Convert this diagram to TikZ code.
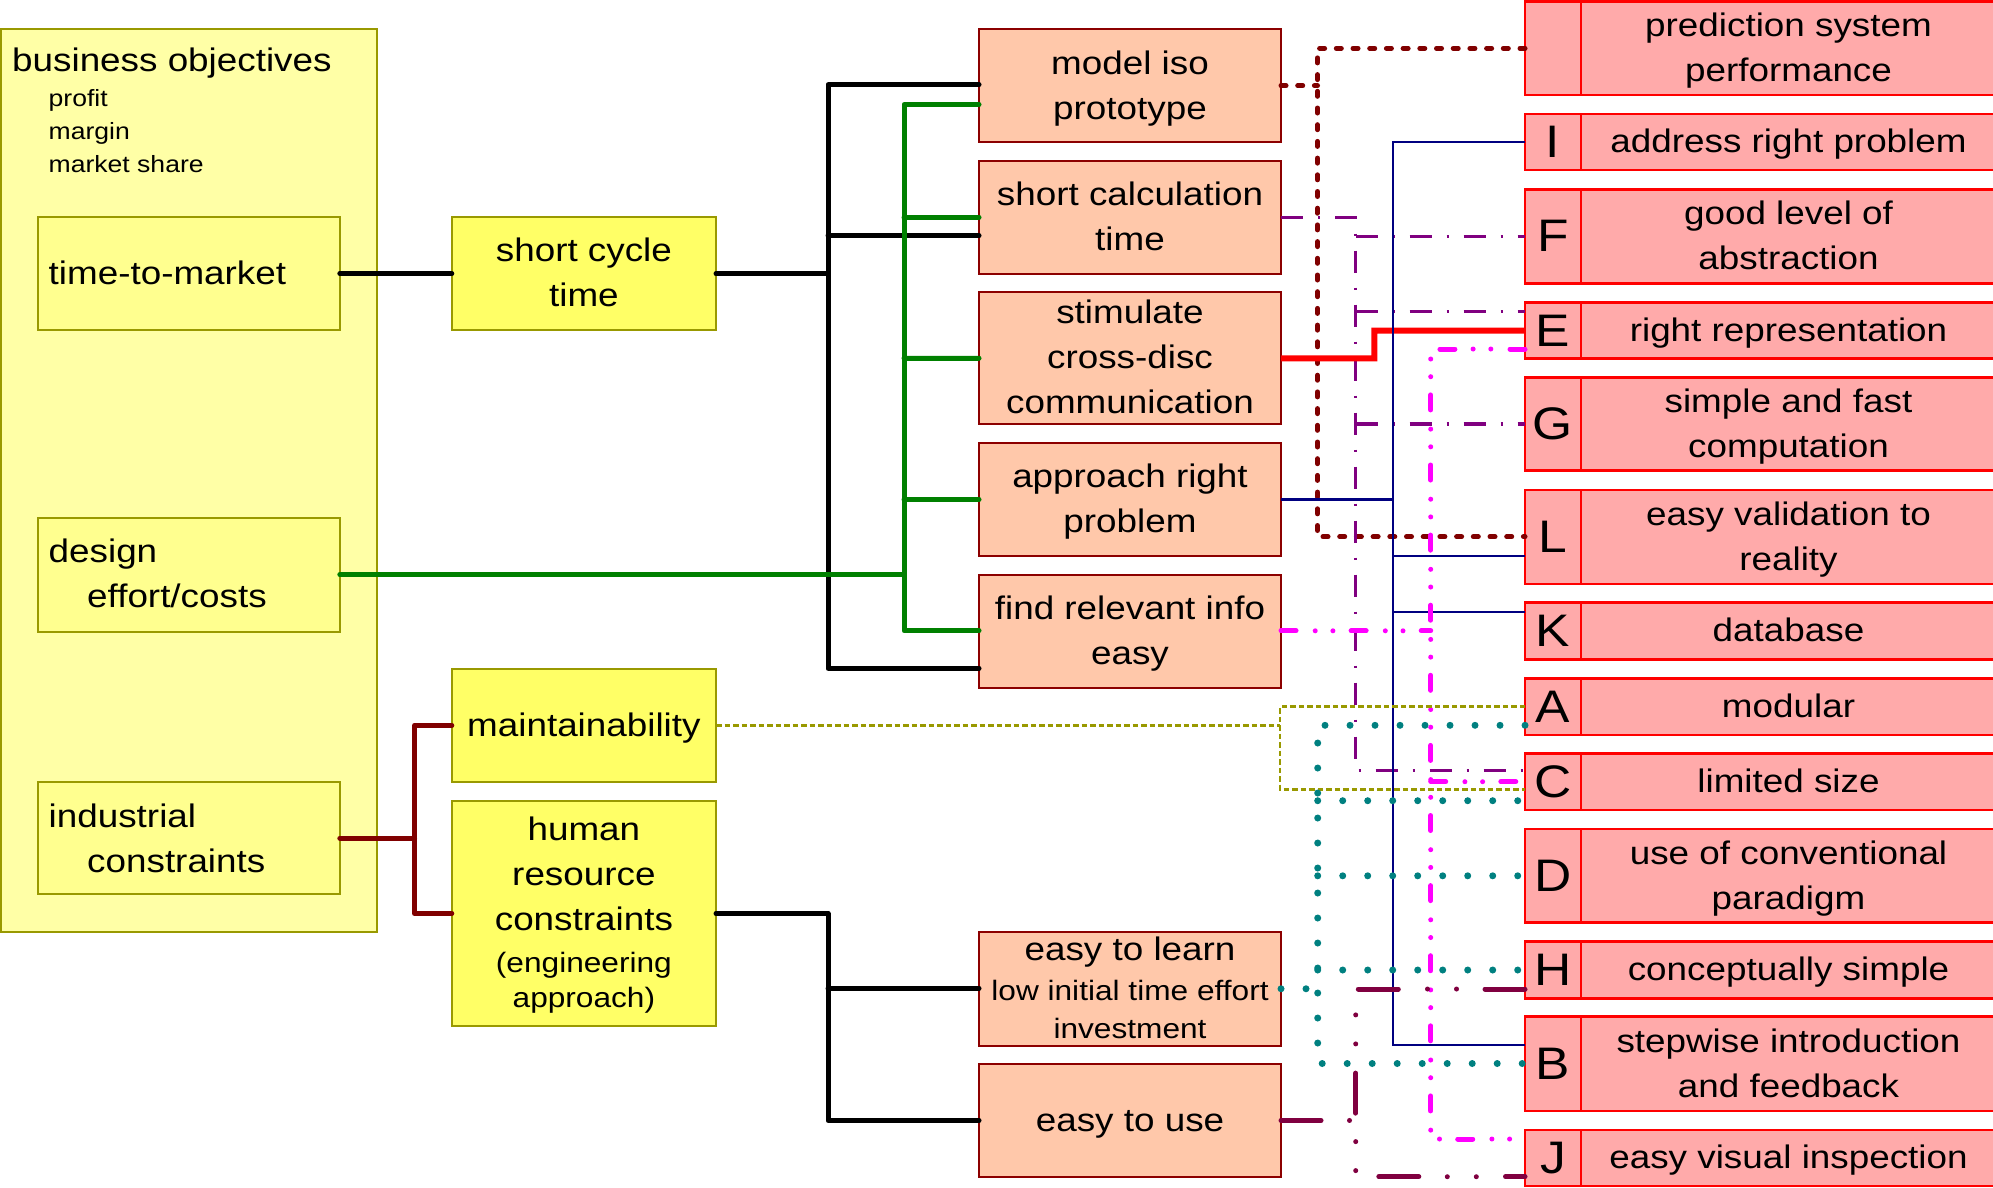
\documentclass[tikz,border=0pt]{standalone}
\usepackage{fontspec}
\setmainfont{Liberation Sans}[FakeStretch=1.13]
\newcommand\fmain{\fontsize{32.6}{45}\selectfont}
\newcommand\fsm{\fontsize{28}{36}\selectfont}
\newcommand\fbiz{\fontsize{23.5}{32.8}\selectfont}
\newcommand\flet{\fontsize{45.6}{50}\selectfont}
\newcommand\T{\rule{0pt}{28.4pt}}
\newcommand\botstrut{\rule[-7pt]{0pt}{7pt}}
\definecolor{bigY}{RGB}{255,255,166}
\definecolor{inY}{RGB}{255,255,143}
\definecolor{midY}{RGB}{255,255,102}
\definecolor{olv}{RGB}{153,153,0}
\definecolor{salm}{RGB}{255,200,170}
\definecolor{salmB}{RGB}{140,0,0}
\definecolor{pinkR}{RGB}{255,170,170}
\definecolor{cGrn}{RGB}{0,128,0}
\definecolor{cDrd}{RGB}{128,0,0}
\definecolor{cPur}{RGB}{128,0,128}
\definecolor{cNav}{RGB}{0,0,128}
\definecolor{cMag}{RGB}{255,0,255}
\definecolor{cTea}{RGB}{0,128,128}
\definecolor{cMar}{RGB}{128,0,64}
\begin{document}
\begin{tikzpicture}[x=1pt,y=-1pt,
  bigbox/.style={draw=olv, fill=bigY, line width=2pt, anchor=north west, inner sep=0pt, outer sep=0pt},
  ybox/.style={draw=olv, fill=inY, line width=2pt, minimum width=302pt, anchor=north west, inner sep=0pt, outer sep=0pt},
  strutted/.style={execute at begin node={\T}, execute at end node={\botstrut}},
  mbox/.style={draw=olv, fill=midY, line width=2pt, minimum width=264.2pt, anchor=north west, inner sep=0pt, outer sep=0pt, font=\fmain, align=center, strutted},
  sbox/.style={draw=salmB, fill=salm, line width=2pt, minimum width=302pt, anchor=north west, inner sep=0pt, outer sep=0pt, font=\fmain, align=center, strutted},
  rlet/.style={draw=red, fill=pinkR, line width=2.5pt, minimum width=56pt, anchor=north west, inner sep=0pt, outer sep=0pt, font=\flet},
  rtxt/.style={draw=red, fill=pinkR, line width=2.5pt, minimum width=415pt, anchor=north west, inner sep=0pt, outer sep=0pt, font=\fmain, align=center, strutted},
  txt/.style={anchor=base west, inner sep=0pt, font=\fmain},
  lblk/.style={draw=black, line width=5pt, line cap=round, line join=round},
  lgrn/.style={draw=cGrn, line width=5pt, line cap=round, line join=round},
  ldrd/.style={draw=cDrd, line width=5pt, line cap=round, line join=round},
  ldot/.style={draw=cDrd, line width=5pt, line cap=round, dash pattern=on 5pt off 11.7pt},
  lpur/.style={draw=cPur, line width=3.5pt, dash pattern=on 22pt off 15pt on 2pt off 15pt},
  lred/.style={draw=red, line width=6pt, line join=miter},
  lnav/.style={draw=cNav, line width=2.2pt},
  lmag/.style={draw=cMag, line width=5pt, line cap=round, dash pattern=on 15pt off 19.2pt on 0pt off 17.7pt on 0pt off 18.2pt},
  lolv/.style={draw=olv, line width=2.7pt, dash pattern=on 5.5pt off 3pt},
  ltea/.style={draw=cTea, line width=7pt, line cap=round, dash pattern=on 0pt off 25pt},
  lmar/.style={draw=cMar, line width=5pt, line cap=round, dash pattern=on 40pt off 28.5pt on 0pt off 29pt on 0pt off 29.2pt}
]
\useasboundingbox (0,0) rectangle (1993,1187);
\clip (0,0) rectangle (1993,1187);

% ---------- left column ----------
\node[bigbox, minimum width=376pt, minimum height=903.2pt] (bo) at (1,28.6) {};
\node[txt] (boT) at (12,71.4) {business objectives};
\node[txt, font=\fbiz] (bo1) at (48.5,106.4) {profit};
\node[txt, font=\fbiz] (bo2) at (48.5,139.2) {margin};
\node[txt, font=\fbiz] (bo3) at (48.5,172) {market share};

\node[ybox, minimum height=113.6pt] (ttm) at (37.8,216.8) {};
\node[txt] (ttmT) at (48.5,284) {time-to-market};
\node[ybox, minimum height=113.6pt] (dec) at (37.8,517.9) {};
\node[txt] (decT1) at (48.5,562) {design};
\node[txt] (decT2) at (87,607) {effort/costs};
\node[ybox, minimum height=112.3pt] (ind) at (37.8,782) {};
\node[txt] (indT1) at (48.5,827) {industrial};
\node[txt] (indT2) at (87,872) {constraints};

% ---------- yellow middle ----------
\node[mbox, minimum height=113.6pt] (scy) at (451.8,216.8) {\T short cycle\\time};
\node[mbox, minimum height=113.2pt] (mt) at (451.8,668.8) {maintainability};
\node[mbox, minimum height=225.5pt] (hr) at (451.8,800.7) {\T human\\resource\\constraints\\[-3pt]{\fsm(engineering}\\[-10pt]{\fsm approach)}};

% ---------- salmon boxes ----------
\node[sbox, minimum height=113pt] (mi) at (979,29.3) {\T model iso\\prototype};
\node[sbox, minimum height=113pt] (sc) at (979,161) {\T short calculation\\time};
\node[sbox, minimum height=131.7pt] (st) at (979,292.4) {\T stimulate\\cross-disc\\communication};
\node[sbox, minimum height=112.5pt] (ap) at (979,443.3) {\T approach right\\problem};
\node[sbox, minimum height=112.7pt] (fr) at (979,575) {\T find relevant info\\easy};
\node[sbox, minimum height=113.5pt] (el) at (979,932) {\T easy to learn\\[-5pt]{\fsm low initial time effort}\\[-7pt]{\fsm investment}};
\node[sbox, minimum height=112.3pt] (eu) at (979,1064.3) {easy to use};

% ---------- right column ----------
\node[rlet, minimum height=93.5pt] (rP) at (1525,1.5) {};
\node[rtxt, minimum height=93.5pt] (rPt) at (rP.north east) {\T prediction system\\performance};
\node[rlet, minimum height=56pt] (rI) at (1525,114) {I};
\node[rtxt, minimum height=56pt] (rIt) at (rI.north east) {address right problem};
\node[rlet, minimum height=94pt] (rF) at (1525,189.3) {F};
\node[rtxt, minimum height=94pt] (rFt) at (rF.north east) {\T good level of\\abstraction};
\node[rlet, minimum height=55.6pt] (rE) at (1525,302.7) {E};
\node[rtxt, minimum height=55.6pt] (rEt) at (rE.north east) {right representation};
\node[rlet, minimum height=93.4pt] (rG) at (1525,377.3) {G};
\node[rtxt, minimum height=93.4pt] (rGt) at (rG.north east) {\T simple and fast\\computation};
\node[rlet, minimum height=94pt] (rL) at (1525,490) {L};
\node[rtxt, minimum height=94pt] (rLt) at (rL.north east) {\T easy validation to\\reality};
\node[rlet, minimum height=56.6pt] (rK) at (1525,602.7) {K};
\node[rtxt, minimum height=56.6pt] (rKt) at (rK.north east) {database};
\node[rlet, minimum height=56.7pt] (rA) at (1525,678.3) {A};
\node[rtxt, minimum height=56.7pt] (rAt) at (rA.north east) {modular};
\node[rlet, minimum height=56.7pt] (rC) at (1525,753.3) {C};
\node[rtxt, minimum height=56.7pt] (rCt) at (rC.north east) {limited size};
\node[rlet, minimum height=93.7pt] (rD) at (1525,829) {D};
\node[rtxt, minimum height=93.7pt] (rDt) at (rD.north east) {\T use of conventional\\paradigm};
\node[rlet, minimum height=56.6pt] (rH) at (1525,941.7) {H};
\node[rtxt, minimum height=56.6pt] (rHt) at (rH.north east) {conceptually simple};
\node[rlet, minimum height=94.3pt] (rB) at (1525,1016.7) {B};
\node[rtxt, minimum height=94.3pt] (rBt) at (rB.north east) {\T stepwise introduction\\and feedback};
\node[rlet, minimum height=56pt] (rJ) at (1525,1130) {J};
\node[rtxt, minimum height=56pt] (rJt) at (rJ.north east) {easy visual inspection};

% ---------- left tree connectors ----------
\coordinate (kA) at (828,84.8);
\coordinate (kB) at (828,235.7);
\coordinate (kC) at (828,273.6);
\coordinate (kD) at (828,668.3);
\draw[lblk] (ttm.east) -- (scy.west);
\draw[lblk] (scy.east) -- (kC);
\draw[lblk] (mi.west |- kA) -- (kA) -- (kD) -- (fr.west |- kD);
\draw[lblk] (kB) -- (sc.west |- kB);

\coordinate (hA) at (828,913.45);
\coordinate (hB) at (828,988.3);
\coordinate (hC) at (828,1120.45);
\draw[lblk] (hr.east) -- (hA) -- (hC) -- (eu.west);
\draw[lblk] (hB) -- (el.west |- hB);

\coordinate (gA) at (904,104.5);
\coordinate (gB) at (904,217.4);
\coordinate (gC) at (904,358.25);
\coordinate (gD) at (904,499.55);
\coordinate (gE) at (904,574.7);
\coordinate (gF) at (904,630.8);
\draw[lgrn] (dec.east) -- (gE);
\draw[lgrn] (mi.west |- gA) -- (gA) -- (gF) -- (fr.west |- gF);
\draw[lgrn] (gB) -- (sc.west |- gB);
\draw[lgrn] (gC) -- (st.west);
\draw[lgrn] (gD) -- (ap.west);

\coordinate (iA) at (414.5,725.4);
\coordinate (iB) at (414.5,838.15);
\coordinate (iC) at (414.5,913.45);
\draw[ldrd] (ind.east) -- (iB);
\draw[ldrd] (mt.west) -- (iA) -- (iC) -- (hr.west);

% ---------- right connectors ----------
\coordinate (dA) at (1317.5,48.3);
\coordinate (dB) at (1317.5,85.7);
\coordinate (dC) at (1317.5,536.7);
\draw[ldot] (mi.east |- dB) -- (dB);
\draw[ldot] (rP.west |- dA) -- (dA) -- (dC) -- (rL.west |- dC);

\coordinate (uA) at (1355.7,217.3);
\coordinate (uB) at (1355.7,236.3);
\coordinate (uC) at (1355.7,311.5);
\coordinate (uD) at (1355.7,424.2);
\coordinate (uE) at (1355.7,770.7);
\draw[lpur] (sc.east |- uA) -- (uA) -- (uE) -- (rC.west |- uE);
\draw[lpur] (uB) -- (rF.west |- uB);
\draw[lpur] (uC) -- (rE.west |- uC);
\draw[lpur] (uD) -- (rG.west |- uD);

\coordinate (eA) at (1374.3,358.25);
\coordinate (eB) at (1374.3,330.5);
\draw[lred] (st.east) -- (eA) -- (eB) -- (rE.west);

\coordinate (nA) at (1393,141.8);
\coordinate (nB) at (1393,499.55);
\coordinate (nC) at (1393,555.7);
\coordinate (nD) at (1393,612.3);
\coordinate (nE) at (1393,1045);
\draw[lnav] (ap.east) -- (nB);
\draw[lnav] (rI.west |- nA) -- (nA) -- (nE) -- (rB.west |- nE);
\draw[lnav] (nC) -- (rL.west |- nC);
\draw[lnav] (nD) -- (rK.west |- nD);

\coordinate (mA) at (1430.7,349);
\coordinate (mB) at (1430.7,630.8);
\coordinate (mC) at (1430.7,781.7);
\coordinate (mD) at (1430.7,1139);
\draw[lmag] (fr.east |- mB) -- (mB);
\draw[lmag] (rE.west |- mA) -- (mA) -- (mD) -- (rJ.west |- mD);
\draw[lmag] (mC) -- (rC.west |- mC);

\coordinate (oA) at (1280,706.7);
\coordinate (oB) at (1280,725.4);
\coordinate (oC) at (1280,789.3);
\draw[lolv] (mt.east) -- (oB);
\draw[lolv] (rA.west |- oA) -- (oA) -- (oC) -- (rC.west |- oC);

\coordinate (tA) at (1317.7,725.3);
\coordinate (tC) at (1317.7,800.7);
\coordinate (tD) at (1317.7,875.8);
\coordinate (tH) at (1317.7,970);
\coordinate (tE) at (1317.7,988.75);
\coordinate (tB) at (1317.7,1063.5);
\draw[ltea] (el.east) -- (tE);
\draw[ltea] (rA.west |- tA) -- (tA) -- (tB) -- (rB.west |- tB);
\draw[ltea] (tC) -- (rC.west |- tC);
\draw[ltea] (tD) -- (rD.west |- tD);
\draw[ltea] (tH) -- (rH.west |- tH);

\coordinate (qA) at (1355.7,989);
\coordinate (qB) at (1355.7,1120.45);
\coordinate (qC) at (1355.7,1176.7);
\draw[lmar] (eu.east) -- (qB);
\draw[lmar] (rH.west |- qA) -- (qA) -- (qC) -- (rJ.west |- qC);
\end{tikzpicture}
\end{document}
